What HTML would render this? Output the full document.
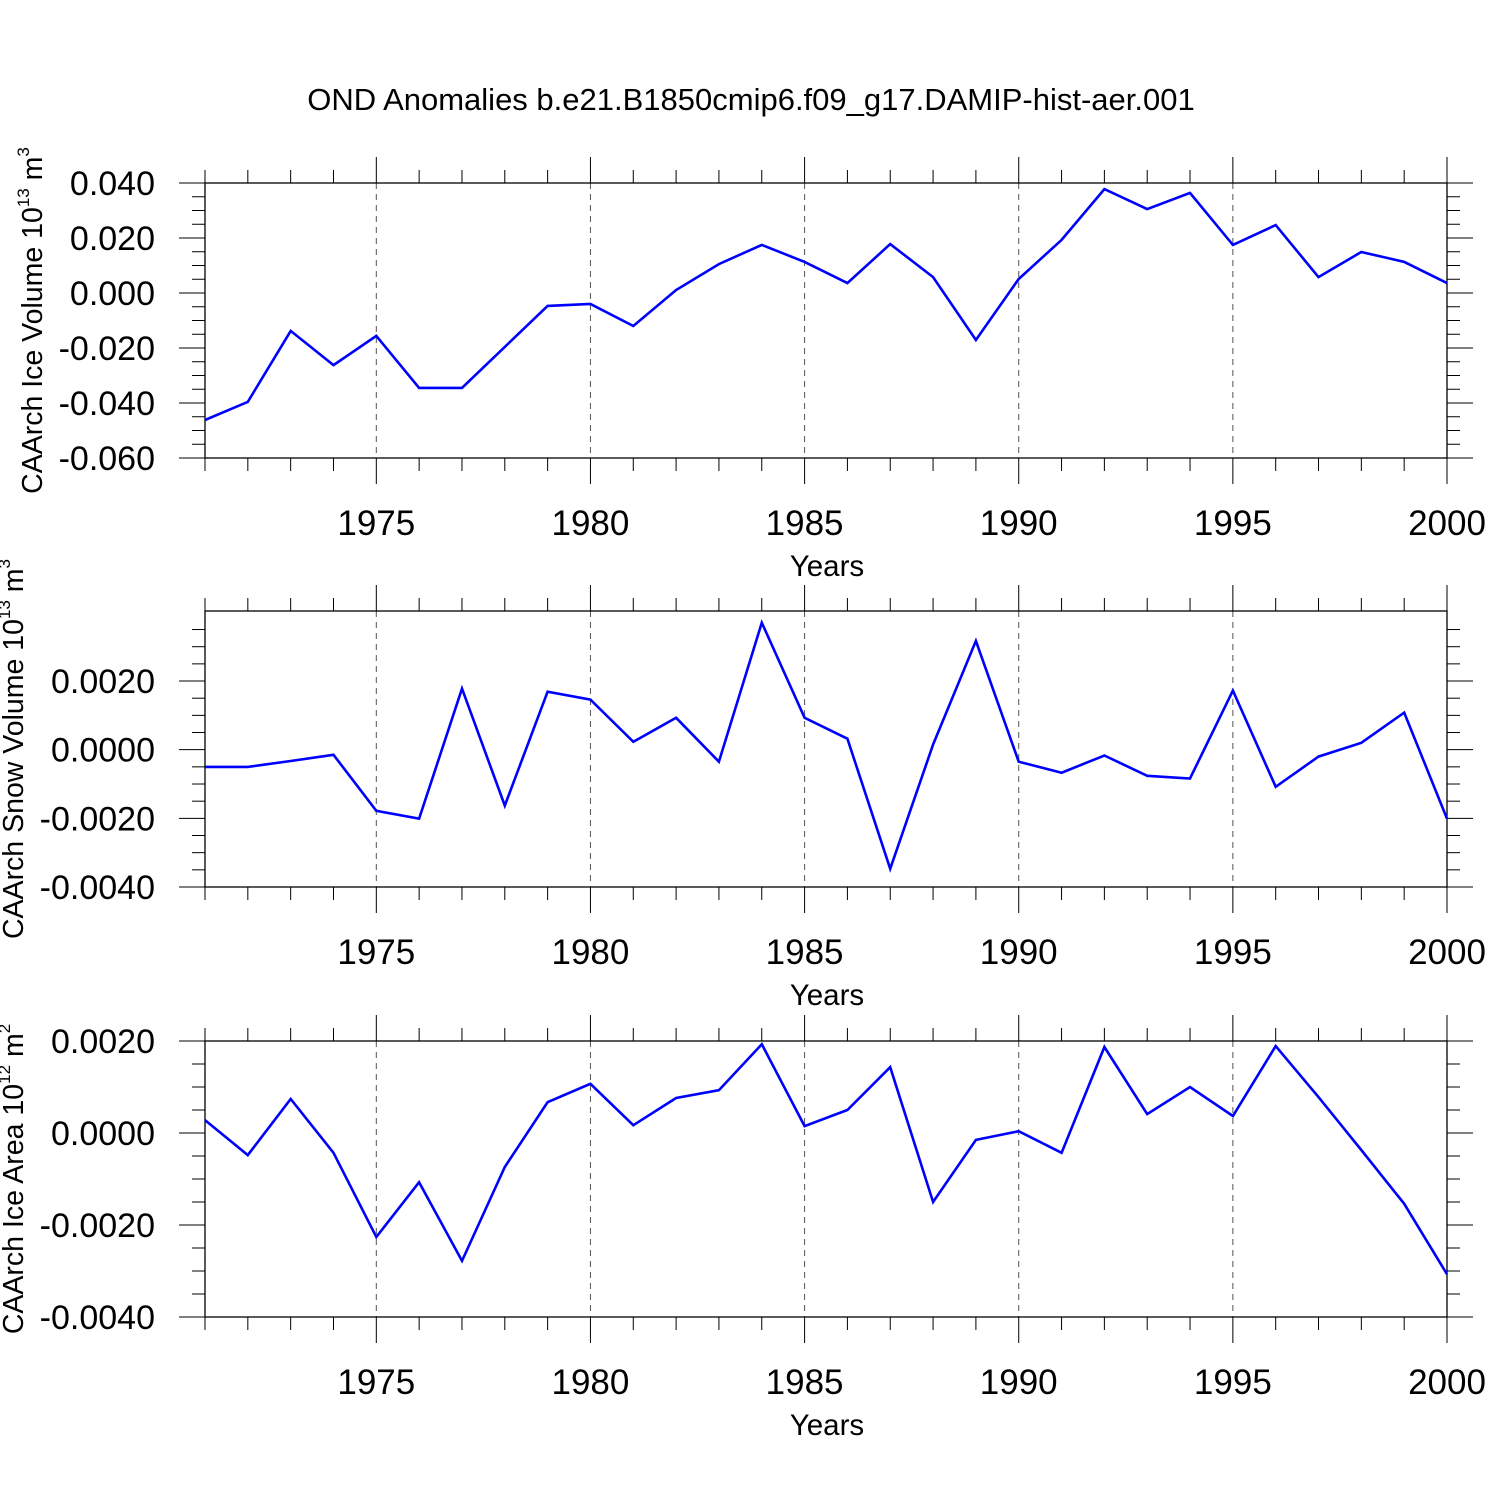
<!DOCTYPE html>
<html><head><meta charset="utf-8"><style>
html,body{margin:0;padding:0;background:#fff;}
svg{display:block;font-family:"Liberation Sans",sans-serif;}
</style></head><body>
<svg id="chart" width="1500" height="1500" viewBox="0 0 1500 1500">
<rect width="1500" height="1500" fill="#fff"/>
<text x="751" y="110" font-size="31" text-anchor="middle">OND Anomalies b.e21.B1850cmip6.f09_g17.DAMIP-hist-aer.001</text>
</svg>
<script>
const years = [1971,1972,1973,1974,1975,1976,1977,1978,1979,1980,1981,1982,1983,1984,1985,1986,1987,1988,1989,1990,1991,1992,1993,1994,1995,1996,1997,1998,1999,2000];
const iceVolume = [-0.0462,-0.0396,-0.0138,-0.0262,-0.0156,-0.0345,-0.0345,-0.0196,-0.0047,-0.0040,-0.0120,0.0011,0.0105,0.0175,0.0113,0.0036,0.0178,0.0058,-0.0171,0.0051,0.0193,0.0378,0.0305,0.0364,0.0175,0.0247,0.0058,0.0149,0.0113,0.0036];
const snowVolume = [-0.00050,-0.00050,-0.00033,-0.00015,-0.00178,-0.00201,0.00178,-0.00163,0.00169,0.00146,0.00023,0.00093,-0.00035,0.00370,0.00093,0.00032,-0.00347,0.00015,0.00317,-0.00035,-0.00067,-0.00017,-0.00076,-0.00084,0.00172,-0.00108,-0.00020,0.00020,0.00108,-0.00201];
const iceArea = [0.00028,-0.00048,0.00074,-0.00043,-0.00226,-0.00107,-0.00278,-0.00074,0.00067,0.00107,0.00017,0.00076,0.00093,0.00193,0.00015,0.00050,0.00143,-0.00150,-0.00015,0.00004,-0.00043,0.00187,0.00041,0.00100,0.00037,0.00189,0.00078,-0.00037,-0.00154,-0.00307];
const xTickLabels = ["1975","1980","1985","1990","1995","2000"];
const iceVolTicks = ["0.040","0.020","0.000","-0.020","-0.040","-0.060"];
const snowTicks = ["0.0020","0.0000","-0.0020","-0.0040"];
const areaTicks = ["0.0020","0.0000","-0.0020","-0.0040"];

const svg = document.getElementById('chart');
const NS = 'http://www.w3.org/2000/svg';
function mk(tag, attrs, parent){const e=document.createElementNS(NS,tag);for(const k in attrs)e.setAttribute(k,attrs[k]);(parent||svg).appendChild(e);return e;}
const X0=205, X1=1447;
function xs(y){return X0+(y-1971)/(2000-1971)*(X1-X0);}

function panel(cfg){
  const g=mk('g',{});
  
  
  const ys=v=>cfg.top+(cfg.vmax-v)/(cfg.vmax-cfg.vmin)*(cfg.bot-cfg.top);
  for(let yr=1975;yr<2000;yr+=5){
    const l=mk('line',{x1:xs(yr),x2:xs(yr),y1:cfg.top,y2:cfg.bot,stroke:'#555','stroke-width':1,'stroke-dasharray':'6,5'},g);
    
    
  }
  const fr=mk('rect',{x:X0,y:cfg.top,width:X1-X0,height:cfg.bot-cfg.top,fill:'none',stroke:'#000','stroke-width':1.3},g);
  
  
  for(let yr=1971;yr<=2000;yr++){
    const major=yr%5===0, len=major?26:13, x=xs(yr);
    mk('line',{x1:x,x2:x,y1:cfg.top-len,y2:cfg.top,stroke:'#000','stroke-width':1},g);
    mk('line',{x1:x,x2:x,y1:cfg.bot,y2:cfg.bot+len,stroke:'#000','stroke-width':1},g);
  }
  xTickLabels.forEach(s=>{
    const t=mk('text',{x:xs(+s),y:cfg.bot+77,'font-size':35,'text-anchor':'middle'},g);
    t.textContent=s;
    
    
  });
  for(let v=cfg.vmin;v<=cfg.vmax+1e-9;v+=cfg.minor){
    const vv=Math.round(v/cfg.minor)*cfg.minor;
    const y=ys(vv);
    if(y<cfg.top-0.5) continue;
    if(cfg.skipTop && y<cfg.top+3) continue;
    const major=Math.abs(vv/cfg.major-Math.round(vv/cfg.major))<1e-6, len=major?26:13;
    mk('line',{x1:X0-len,x2:X0,y1:y,y2:y,stroke:'#000','stroke-width':1},g);
    mk('line',{x1:X1,x2:X1+len,y1:y,y2:y,stroke:'#000','stroke-width':1},g);
  }
  cfg.ticks.forEach(s=>{
    const t=mk('text',{x:155,y:ys(+s)+12,'font-size':34,'text-anchor':'end'},g);
    t.textContent=s;
    
    
  });
  const xt=mk('text',{x:827,y:cfg.bot+118,'font-size':29.5,'text-anchor':'middle'},g);
  xt.textContent='Years';
  
  
  const cy=(cfg.top+cfg.bot)/2;
  const yt=mk('text',{x:0,y:0,'font-size':28.5,'text-anchor':'middle',transform:`translate(${cfg.tx},${cy}) rotate(-90)`},g);
  
  
  yt.innerHTML=cfg.title+' 10<tspan font-size="17" dy="-13">'+cfg.exp+'</tspan><tspan dy="13"> m</tspan><tspan font-size="17" dy="-13">'+cfg.unitExp+'</tspan>';
  const d=cfg.data.map((v,i)=>(i?'L':'M')+xs(years[i]).toFixed(1)+','+ys(v).toFixed(1)).join(' ');
  const p=mk('path',{d:d,fill:'none',stroke:'#0000ff','stroke-width':2.6,'stroke-linejoin':'miter'},g);
  
  
}
panel({name:'ice-volume-panel',top:183,bot:458,vmin:-0.06,vmax:0.04,major:0.02,minor:0.005,ticks:iceVolTicks,data:iceVolume,title:'CAArch Ice Volume',exp:'13',unitExp:'3',tx:42});
panel({name:'snow-volume-panel',top:611,bot:887,vmin:-0.004,vmax:0.00404,major:0.002,minor:0.0005,ticks:snowTicks,data:snowVolume,title:'CAArch Snow Volume',exp:'13',unitExp:'3',tx:23,skipTop:true});
panel({name:'ice-area-panel',top:1041,bot:1317,vmin:-0.004,vmax:0.002,major:0.002,minor:0.0005,ticks:areaTicks,data:iceArea,title:'CAArch Ice Area',exp:'12',unitExp:'2',tx:23});
</script>
</body></html>
